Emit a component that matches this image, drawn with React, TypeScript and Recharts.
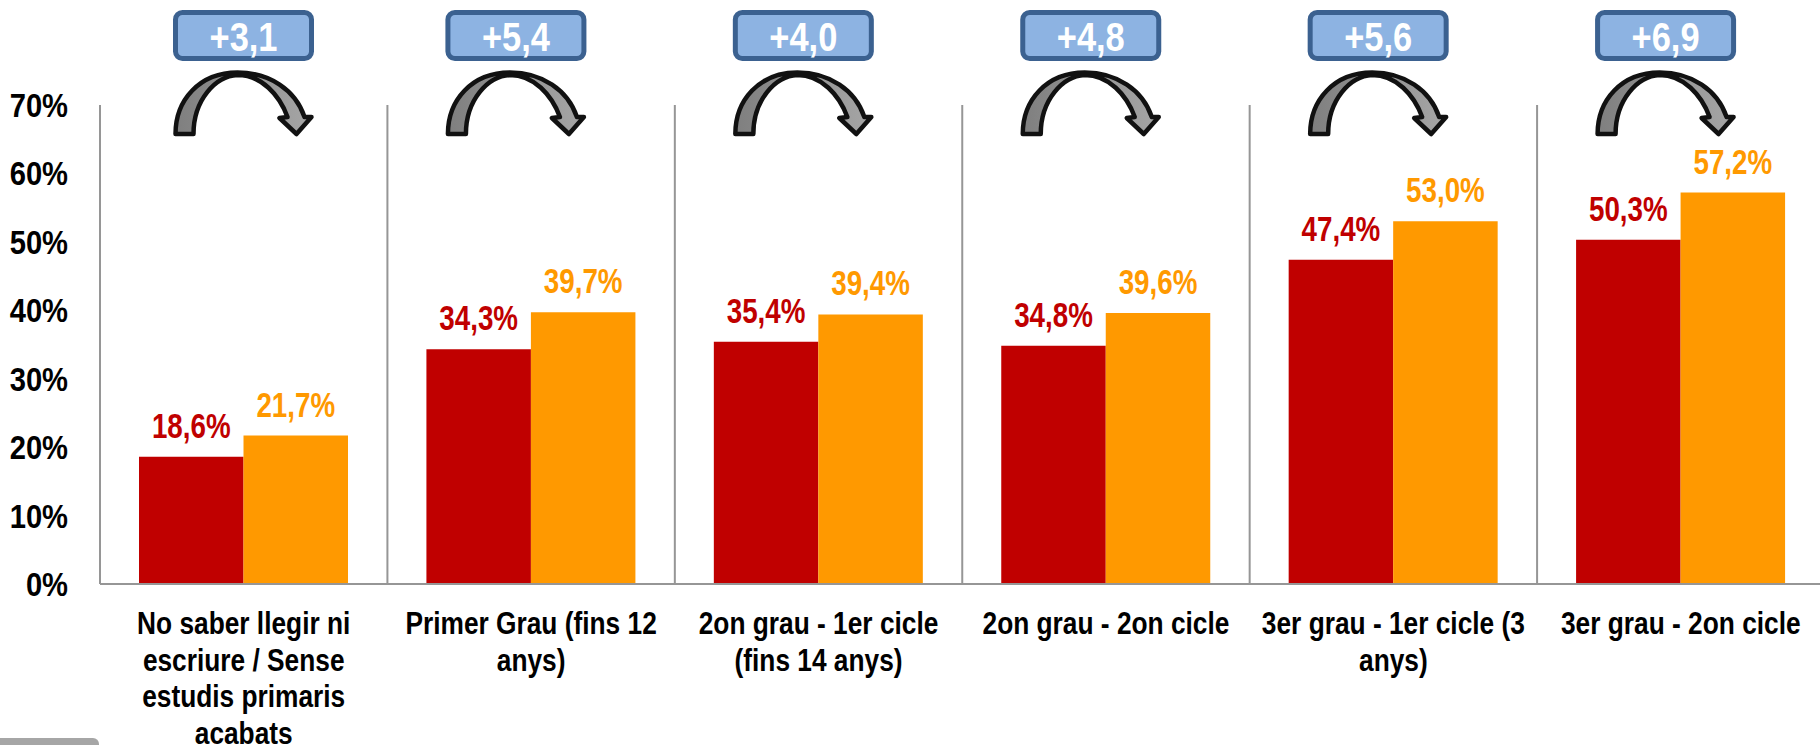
import { BarChart, Bar, XAxis, YAxis, CartesianGrid, LabelList } from 'recharts';

const categories = [
  'No saber llegir ni\nescriure / Sense\nestudis primaris\nacabats',
  'Primer Grau (fins 12\nanys)',
  '2on grau - 1er cicle\n(fins 14 anys)',
  '2on grau - 2on cicle',
  '3er grau - 1er cicle (3\nanys)',
  '3er grau - 2on cicle',
];
const redValues = [18.6, 34.3, 35.4, 34.8, 47.4, 50.3];
const orangeValues = [21.7, 39.7, 39.4, 39.6, 53.0, 57.2];
const changes = ['+3,1', '+5,4', '+4,0', '+4,8', '+5,6', '+6,9'];
const yTicks = [0, 10, 20, 30, 40, 50, 60, 70];

const data = categories.map((name, i) => ({
  name,
  red: redValues[i],
  orange: orangeValues[i],
  change: changes[i],
}));

const FONT = '"Liberation Sans", Arial, sans-serif';
const RED = '#C00000';
const ORANGE = '#FF9900';
const AXIS = '#969696';

// the original text is squeezed horizontally
const Squeezed = ({ x, y, size, fill, sx = 0.85, anchor = 'middle', children }: any) => (
  <text
    transform={`translate(${x},${y}) scale(${sx},1)`}
    fontFamily={FONT}
    fontWeight={700}
    fontSize={size}
    fill={fill}
    textAnchor={anchor}
  >
    {children}
  </text>
);

const YTick = ({ x, y, payload }: any) => (
  <Squeezed x={x} y={y + 12} size={33.5} fill="#000" sx={0.87} anchor="end">
    {payload.value}%
  </Squeezed>
);

const XTick = ({ x, payload }: any) => (
  <g>
    {String(payload.value)
      .split('\n')
      .map((line, i) => (
        <Squeezed key={i} x={x} y={634 + i * 36.5} size={31.5} fill="#000" sx={0.835}>
          {line}
        </Squeezed>
      ))}
  </g>
);

const valueLabel = (fill: string) => ({ x, y, width, value }: any) => (
  <Squeezed x={x + width / 2} y={y - 19} size={34.5} fill={fill} sx={0.805}>
    {Number(value).toFixed(1).replace('.', ',')}%
  </Squeezed>
);

// badge and curved arrow over each group, placed from the band centre
const ChangeBadge = ({ x, width, value, index }: any) => {
  const cx = x + width + (index === 0 ? 0 : -15);
  return (
    <g transform={`translate(${cx},0)`}>
      <rect x={-68} y={12.5} width={136} height={46} rx={7} fill="#8DB3E2" stroke="#3B6190" strokeWidth={5} />
      <Squeezed x={0} y={51} size={41.5} fill="#fff" sx={0.83}>
        {value}
      </Squeezed>
      <path
        d="M-68,134 C-68,100 -44,72.5 -6,72.5 C26,72.5 52,90 61,117 L68,117 L53,134 L36,118 L44,117 C36,95 18,75 -6,75 C-28,76 -50,100 -50,134 Z"
        fill="url(#arrowFill)"
        stroke="#111"
        strokeWidth={4.5}
        strokeLinejoin="round"
      />
    </g>
  );
};

export default function App() {
  return (
    <div style={{ position: 'absolute', left: 0, top: 0, width: 1820, height: 745, overflow: 'hidden', background: '#fff' }}>
      <BarChart
        width={1826.5}
        height={745}
        data={data}
        barSize={104.5}
        barGap={0}
        margin={{ top: 105, right: 2, left: 0, bottom: 0 }}
      >
        <defs>
          <linearGradient id="arrowFill" x1="0" y1="0" x2="1" y2="0">
            <stop offset="0" stopColor="#7F7F7F" />
            <stop offset="1" stopColor="#A6A6A6" />
          </linearGradient>
        </defs>
        <CartesianGrid
          horizontal={false}
          stroke={AXIS}
          strokeWidth={2}
          verticalCoordinatesGenerator={({ offset }: any) =>
            categories.map((_, i) => offset.left + (i * offset.width) / categories.length)
          }
        />
        <XAxis dataKey="name" height={161} interval={0} tick={<XTick />} tickLine={false} stroke={AXIS} strokeWidth={2} />
        <YAxis width={100} domain={[0, 70]} ticks={yTicks} tick={<YTick />} tickLine={false} tickMargin={26} stroke={AXIS} strokeWidth={2} />
        <Bar dataKey="red" fill={RED} isAnimationActive={false}>
          <LabelList dataKey="red" content={valueLabel(RED)} />
          <LabelList dataKey="change" content={<ChangeBadge />} />
        </Bar>
        <Bar dataKey="orange" fill={ORANGE} isAnimationActive={false}>
          <LabelList dataKey="orange" content={valueLabel(ORANGE)} />
        </Bar>
      </BarChart>
      <div style={{ position: 'absolute', left: 0, top: 738, width: 99, height: 10, background: '#A6A6A6', borderTopRightRadius: 6 }} />
    </div>
  );
}
